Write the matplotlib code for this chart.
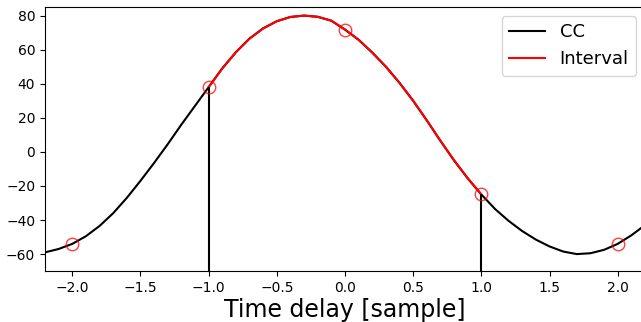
import matplotlib
matplotlib.use('Agg')
import matplotlib.pyplot as plt

# --- DANE ---
# krzywa korelacji (odczytana co 0.1 próbki)
delay = [-2.2, -2.1, -2.0, -1.9, -1.8, -1.7, -1.6, -1.5, -1.4, -1.3, -1.2, -1.1,
         -1.0, -0.9, -0.8, -0.7, -0.6, -0.5, -0.4, -0.3, -0.2, -0.1,
         0.0, 0.1, 0.2, 0.3, 0.4, 0.5, 0.6, 0.7, 0.8, 0.9,
         1.0, 1.1, 1.2, 1.3, 1.4, 1.5, 1.6, 1.7, 1.8, 1.9, 2.0, 2.1, 2.2]
cc = [-59, -57, -54, -49.5, -43.5, -36, -27, -17, -6.5, 4.5, 16, 27,
      38, 49, 58.5, 66.5, 72.5, 76.7, 79.2, 80, 79.3, 77,
      71.8, 65.8, 58.3, 50, 40.5, 30, 18.5, 6.5, -5, -15.5,
      -25, -33.5, -40.5, -46.5, -51.5, -55.5, -58.5, -60, -59.5, -57.5, -54, -49, -43]

# próbki (całkowite opóźnienia)
sample_delay = [-2, -1, 0, 1, 2]
sample_cc = [-54, 38, 71.8, -25, -54]

# granice przedziału
interval = (-1.0, 1.0)

Y_MIN, Y_MAX = -70, 85


def main():
    fig = plt.figure(figsize=(6.41, 3.22), dpi=100)
    ax = fig.add_axes([0.0702, 0.158, 0.936, 0.820])

    ax.plot(delay, cc, color='k', linewidth=1.5, label='CC')

    inside = [i for i, d in enumerate(delay) if interval[0] <= d <= interval[1]]
    ax.plot([delay[i] for i in inside], [cc[i] for i in inside],
            color='red', linewidth=1.5, label='Interval')

    # pionowe linie na granicach przedziału
    for x0 in interval:
        y0 = sample_cc[sample_delay.index(int(x0))]
        ax.vlines(x0, Y_MIN, y0, color='k', linewidth=1.5)

    ax.plot(sample_delay, sample_cc, linestyle='none', marker='o', markersize=9,
            markerfacecolor='none', markeredgecolor='red', markeredgewidth=1.0,
            alpha=0.75)

    ax.set_xlim(-2.2, 2.2)
    ax.set_ylim(Y_MIN, Y_MAX)
    ax.set_xticks([-2.0, -1.5, -1.0, -0.5, 0.0, 0.5, 1.0, 1.5, 2.0])
    ax.set_yticks([-60, -40, -20, 0, 20, 40, 60, 80])
    ax.tick_params(labelsize=10)
    ax.set_xlabel('Time delay [sample]', fontsize=17, labelpad=2)
    ax.legend(loc='upper right', fontsize=13)

    fig.savefig('out.png', dpi=100)


if __name__ == '__main__':
    main()
